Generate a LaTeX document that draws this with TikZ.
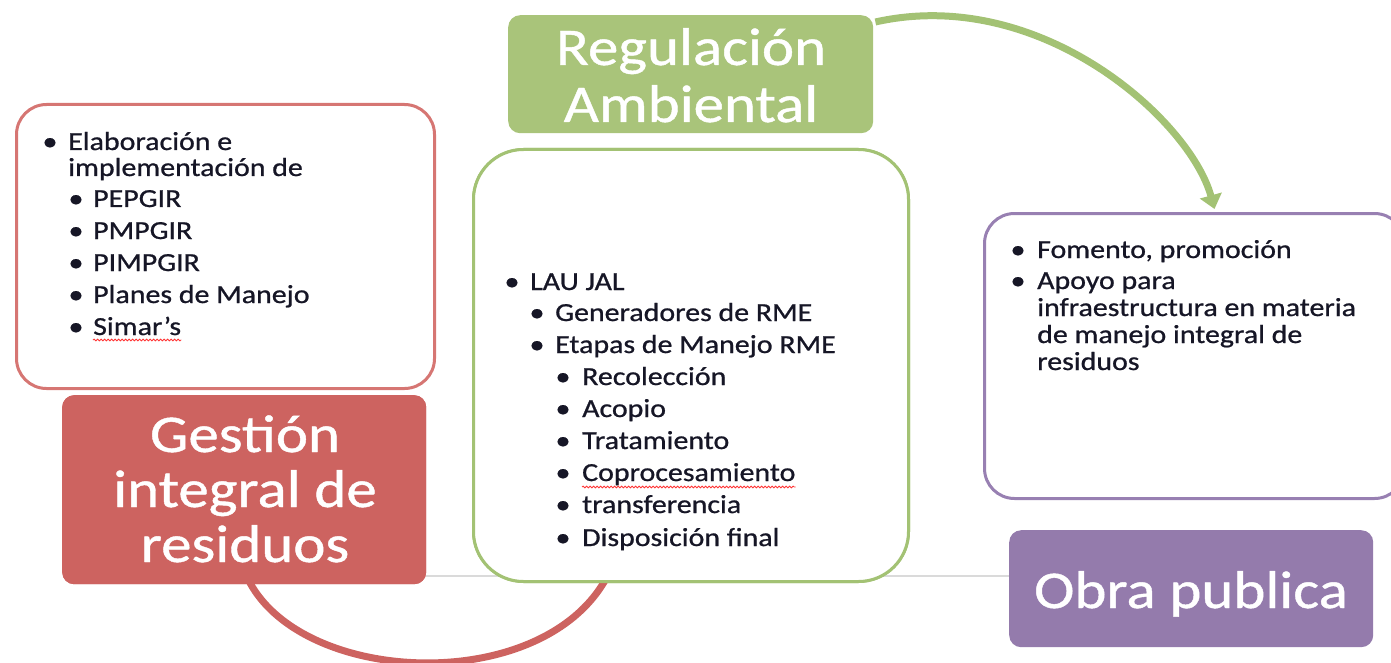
\documentclass[tikz,border=0pt]{standalone}
\usepackage{fontspec}
\setmainfont{Carlito}[FakeStretch=1.15]
\newfontfamily\bodyfont{Carlito}[FakeStretch=1.15, FakeBold=0.8]
\usetikzlibrary{arrows.meta,calc,decorations.pathmorphing}
\definecolor{redfill}{RGB}{205,99,96}
\definecolor{redline}{RGB}{214,118,115}
\definecolor{greenfill}{RGB}{169,196,122}
\definecolor{greenline}{RGB}{163,194,116}
\definecolor{purplefill}{RGB}{148,123,172}
\definecolor{purpleline}{RGB}{152,128,178}
\definecolor{txt}{RGB}{22,22,38}
\definecolor{grayline}{RGB}{218,218,218}
\begin{document}
\begin{tikzpicture}[x=1pt,y=-1pt,
  outbox/.style={draw, line width=3pt, fill=white, anchor=north west, inner sep=0pt},
  titlebox/.style={anchor=north west, inner sep=0pt, rounded corners=12pt},
  titletext/.style={anchor=base, inner sep=0pt, text=white, font=\bodyfont\fontsize{53}{56}\selectfont},
  itm/.style={anchor=base west, inner sep=0pt, text=txt, font=\bodyfont\fontsize{26}{27}\selectfont},
  bul/.style={anchor=base, inner sep=0pt, text=txt, font=\bodyfont\fontsize{26}{27}\selectfont},
  conn/.style={line width=7pt, -{Triangle[width=22pt,length=14pt]}},
  squig/.style={draw=red!80, line width=0.8pt, decorate, decoration={snake, amplitude=0.9pt, segment length=3.5pt}}
]
\useasboundingbox (0,0) rectangle (1391,663);

% title boxes (positions only)
\node[titlebox, fill=redfill, minimum width=364pt, minimum height=189pt] (gir) at (62,395) {};
\node[titlebox, fill=greenfill, minimum width=365pt, minimum height=118pt] (reg) at (508,15) {};
\node[titlebox, fill=purplefill, minimum width=364pt, minimum height=117pt] (obra) at (1009,530) {};

% faint gray line (behind the green box)
\coordinate (gl) at (426,576);
\draw[grayline, line width=2pt] (gl) -- (obra.west |- gl);

% outlined boxes
\node[outbox, draw=greenline, rounded corners=50pt, minimum width=435pt, minimum height=432pt] (gbox) at (472,148) {};
\node[outbox, draw=purpleline, rounded corners=30pt, minimum width=420pt, minimum height=285pt] (pbox) at (983,212) {};

% connectors
\draw[conn, redfill] ([yshift=14pt]gir.south) .. controls (290,690) and (560,700) .. ([shift={(146pt,32pt)}]gbox.south west);
\draw[conn, greenline] ([shift={(2pt,-7pt)}]reg.north east) .. controls (1040,-15) and (1190,120) .. ([shift={(20pt,3pt)}]pbox.north);

% redraw boxes over the red arc
\node[outbox, draw=greenline, rounded corners=50pt, minimum width=435pt, minimum height=432pt] (gbox2) at (472,148) {};
\node[titlebox, fill=redfill, minimum width=364pt, minimum height=189pt] (gir2) at (62,395) {};
\node[outbox, draw=redline, rounded corners=30pt, minimum width=418pt, minimum height=284pt] (lbox) at (15,103) {};

% titles
\node[titletext] (t1) at (691,65) {Regulación};
\node[titletext] (t2) at (691,122) {Ambiental};
\node[titletext] (t3) at (245,452) {Gestión};
\node[titletext] (t4) at (245,507) {integral de};
\node[titletext] (t5) at (245,562) {residuos};
\node[titletext] (t6) at (1191,608) {Obra publica};

% left list
\node[bul] (lb1) at (50,150) {•};
\node[itm] (l1) at (68,150) {Elaboración e};
\node[itm] (l2) at (68,176) {implementación de};
\foreach \y/\t [count=\i] in {207/PEPGIR,239/PMPGIR,271/PIMPGIR,303/Planes de Manejo}{
  \node[bul] (lsb\i) at (76,\y) {•};
  \node[itm] (ls\i) at (93,\y) {\t};
}
\node[bul] (lsb5) at (76,335) {•};
\node[itm] (sim) at (93,335) {Simar’s};
\draw[squig] ([yshift=-5pt]sim.base west) -- ([yshift=-5pt]sim.base east);

% center list
\node[bul] (cb1) at (512,290) {•};
\node[itm] (c1) at (530,290) {LAU JAL};
\node[bul] (cb2) at (537,321) {•};
\node[itm] (c2) at (555,321) {Generadores de RME};
\node[bul] (cb3) at (537,353) {•};
\node[itm] (c3) at (555,353) {Etapas de Manejo RME};
\foreach \y/\t [count=\i] in {385/Recolección,417/Acopio,449/Tratamiento,513/transferencia,546/Disposición final}{
  \node[bul] (csb\i) at (563,\y) {•};
  \node[itm] (cs\i) at (582,\y) {\t};
}
\node[bul] (csb6) at (563,481) {•};
\node[itm] (copro) at (582,481) {Coprocesamiento};
\draw[squig] ([yshift=-6pt]copro.base west) -- ([yshift=-6pt]copro.base east);

% right list
\node[bul] (pb1) at (1018,258) {•};
\node[itm] (p1) at (1037,258) {Fomento, promoción};
\node[bul] (pb2) at (1018,289) {•};
\node[itm] (p2) at (1037,289) {Apoyo para};
\node[itm] (p3) at (1037,316) {infraestructura en materia};
\node[itm] (p4) at (1037,343) {de manejo integral de};
\node[itm] (p5) at (1037,370) {residuos};
\end{tikzpicture}
\end{document}
